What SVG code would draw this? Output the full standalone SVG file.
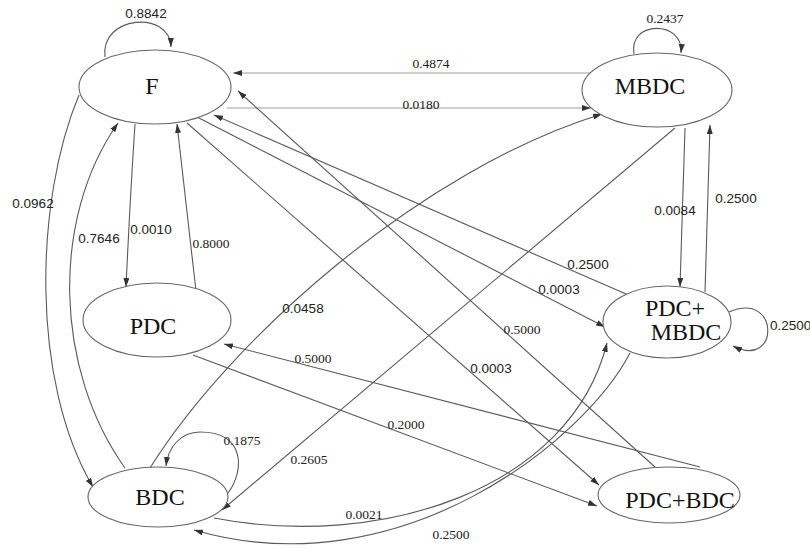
<svg xmlns="http://www.w3.org/2000/svg" width="810" height="548" viewBox="0 0 810 548">
<style>
.node ellipse{fill:#fff;stroke:#666;stroke-width:1.1}
.node text{font-family:"Liberation Serif","Times New Roman",serif;font-size:24px;fill:#111;text-anchor:middle}
.edges path{fill:none;stroke:#5a5a5a;stroke-width:1.1;marker-end:url(#ah)}
.edges path.light{stroke:#a0a0a0}
.lbl text{font-size:13.5px;fill:#222;text-anchor:middle}
.s{font-family:"Liberation Sans",Arial,sans-serif}
.r{font-family:"Liberation Serif","Times New Roman",serif;font-size:15px}
</style>
<defs>
<marker id="ah" markerUnits="userSpaceOnUse" markerWidth="9" markerHeight="6" refX="9" refY="3" orient="auto">
<path d="M0,0 L9,3 L0,6 z" fill="#333"/>
</marker>
</defs>
<rect width="810" height="548" fill="#fff"/>
<g class="edges" id="connectors">
<path d="M105,57 C100,15 170,10 171,47"/>
<path class="light" d="M590,73 L233,73"/>
<path class="light" d="M227,108 L591,108"/>
<path d="M634,54 C628,20 684,20 681,53"/>
<path d="M135,124 Q130,200 126,287"/>
<path d="M196,291 Q186,200 177,124"/>
<path d="M125,468 C55,370 50,220 118,123"/>
<path d="M79,95 C35,200 30,380 93,487"/>
<path d="M685,128 L680,287"/>
<path d="M705,292 L710,125"/>
<path d="M729,312 C780,290 780,370 733,346"/>
<path d="M197,117 L605,327"/>
<path d="M633,297 L214,115"/>
<path d="M187,123 L599,485"/>
<path d="M655,467 L238,91"/>
<path d="M150,468 C230,340 420,170 602,114"/>
<path d="M675,128 L222,510"/>
<path d="M700,467 L224,344"/>
<path d="M193,355 L597,506"/>
<path d="M214,518 C380,550 570,490 607,343"/>
<path d="M630,353 C585,440 400,590 194,530"/>
<path d="M228,493 C245,470 245,432 200,432 C180,432 168,448 166,466"/>
</g>
<g id="node-F" class="node"><ellipse cx="155" cy="87" rx="76" ry="37"/><text x="152" y="94">F</text></g>
<g id="node-MBDC" class="node"><ellipse cx="657" cy="90" rx="75" ry="37"/><text x="650" y="94">MBDC</text></g>
<g id="node-PDC" class="node"><ellipse cx="157" cy="320" rx="74" ry="37"/><text x="153" y="334">PDC</text></g>
<g id="node-PDC-MBDC" class="node"><ellipse cx="667" cy="322" rx="64" ry="36"/><text x="675" y="316">PDC+</text><text x="686" y="340">MBDC</text></g>
<g id="node-BDC" class="node"><ellipse cx="158" cy="497" rx="70" ry="30"/><text x="160" y="505">BDC</text></g>
<g id="node-PDC-BDC" class="node"><ellipse cx="669" cy="495" rx="71" ry="28"/><text x="680" y="508">PDC+BDC</text></g>
<g class="lbl" id="labels">
<text class="s" x="146" y="18">0.8842</text>
<text class="r" x="665" y="23">0.2437</text>
<text class="r" x="431" y="68">0.4874</text>
<text class="r" x="421" y="109">0.0180</text>
<text class="s" x="33" y="208">0.0962</text>
<text class="s" x="99" y="243">0.7646</text>
<text class="s" x="151" y="234">0.0010</text>
<text class="r" x="211" y="248">0.8000</text>
<text class="s" x="675" y="215">0.0084</text>
<text class="s" x="736" y="203">0.2500</text>
<text class="s" x="588" y="269">0.2500</text>
<text class="s" x="559" y="294">0.0003</text>
<text class="s" x="770" y="330" style="text-anchor:start">0.2500</text>
<text class="s" x="303" y="313">0.0458</text>
<text class="r" x="522" y="334">0.5000</text>
<text class="s" x="491" y="373">0.0003</text>
<text class="r" x="313" y="363">0.5000</text>
<text class="r" x="242" y="445">0.1875</text>
<text class="r" x="406" y="429">0.2000</text>
<text class="r" x="309" y="464">0.2605</text>
<text class="r" x="364" y="519">0.0021</text>
<text class="r" x="451" y="539">0.2500</text>
</g>
</svg>
